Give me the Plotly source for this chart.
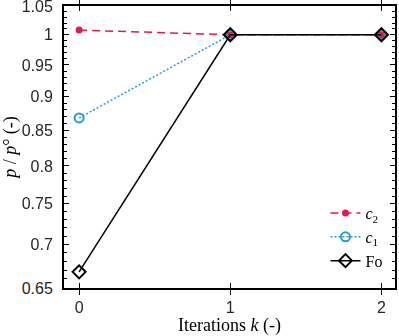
import numpy as np
import plotly.graph_objects as go

k = [0, 1, 2]
c2 = [1.008, 1.0, 1.0]
c1 = [0.868, 1.0, 1.0]
fo = [0.668, 1.0, 1.0]
ytick_vals = [0.65, 0.7, 0.75, 0.8, 0.85, 0.9, 0.95, 1.0, 1.05]
ytick_text = ["0.65", "0.7", "0.75", "0.8", "0.85", "0.9", "0.95", "1", "1.05"]
xtick_vals = [0, 1, 2]

RED = "#E8174B"
BLUE = "#1E9FCC"

fig = go.Figure()
fig.add_trace(go.Scatter(
    x=k, y=c2, mode="lines+markers", name="<i>c</i><sub>2</sub>",
    line=dict(color=RED, width=1.5, dash="8px,5px"),
    marker=dict(symbol="circle", size=7, color=RED, line=dict(width=0))))
fig.add_trace(go.Scatter(
    x=k, y=c1, mode="lines+markers", name="<i>c</i><sub>1</sub>",
    line=dict(color=BLUE, width=1.5, dash="2px,2px"),
    marker=dict(symbol="circle-open", size=9, color=BLUE, line=dict(width=2))))
fig.add_trace(go.Scatter(
    x=k, y=fo, mode="lines+markers", name="Fo",
    line=dict(color="black", width=1.5),
    marker=dict(symbol="diamond-open", size=10, color="black", line=dict(width=2))))
# invisible carrier trace for the minor-tick overlay axis
fig.add_trace(go.Scatter(x=k, y=fo, yaxis="y2", mode="markers", opacity=0,
                         showlegend=False, hoverinfo="skip"))

yrange = [np.log10(0.6499), np.log10(1.0502)]
minor_vals = [round(v, 2) for v in np.arange(0.65, 1.0501, 0.01)]

fig.update_layout(
    width=399, height=336,
    margin=dict(l=64, r=4, t=6, b=48, autoexpand=False),
    paper_bgcolor="white", plot_bgcolor="white",
    font=dict(family="Liberation Sans, Arial", size=16, color="#262626"),
    showlegend=True,
    legend=dict(x=0.79, y=0.035, xanchor="left", yanchor="bottom",
                bgcolor="rgba(0,0,0,0)", borderwidth=0,
                font=dict(family="Liberation Serif, serif", size=16, color="black"),
                tracegroupgap=0, itemwidth=30),
    xaxis=dict(range=[-0.1, 2.09], tickvals=xtick_vals, ticktext=["0", "1", "2"],
               ticks="inside", ticklen=5, tickwidth=1, tickcolor="black", automargin=False,
               ticklabelstandoff=4,
               showline=True, linecolor="black", linewidth=2, mirror="allticks",
               showgrid=False, zeroline=False,
               title=dict(text="Iterations <i>k</i> (-)", standoff=6,
                          font=dict(family="Liberation Serif, serif", size=18, color="black"))),
    yaxis=dict(type="log", range=yrange, automargin=False,
               tickvals=ytick_vals, ticktext=ytick_text, ticklabeloverflow="allow",
               ticklabelstandoff=6,
               ticks="inside", ticklen=5, tickwidth=1, tickcolor="black",
               showline=True, linecolor="black", linewidth=2, mirror="allticks",
               showgrid=False, zeroline=False,
               title=dict(text="<i>p</i> / <i>p</i>° (-)", standoff=8,
                          font=dict(family="Liberation Serif, serif", size=18, color="black"))),
    yaxis2=dict(type="log", range=yrange, overlaying="y", side="left", automargin=False,
                tickvals=minor_vals, showticklabels=False,
                ticks="inside", ticklen=3, tickwidth=1, tickcolor="black",
                showline=False, mirror="ticks", showgrid=False, zeroline=False),
)

fig.write_html("out.html", config={"displayModeBar": False},
               post_script="document.body.style.margin='0';")
